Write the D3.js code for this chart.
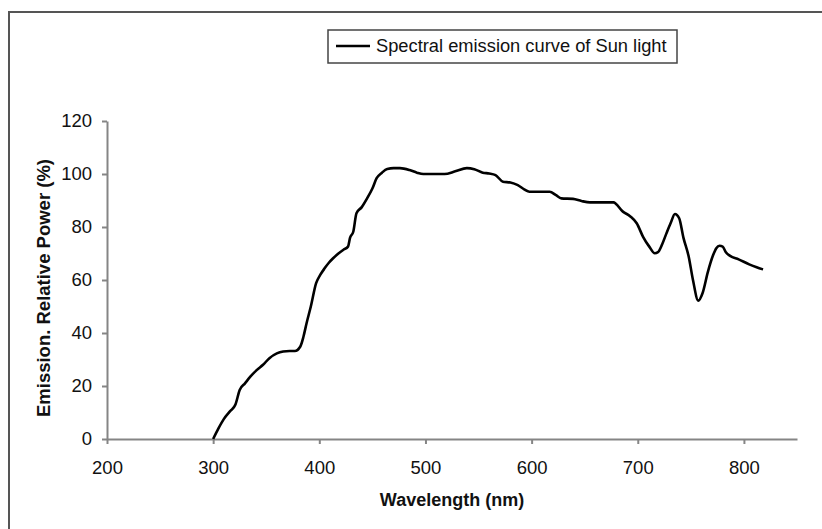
<!DOCTYPE html>
<html>
<head>
<meta charset="utf-8">
<script src="https://cdn.jsdelivr.net/npm/d3@7"></script>
<style>
  body { margin: 0; background: #fff; }
  svg { display: block; font-family: "Liberation Sans", Arial, sans-serif; }
</style>
</head>
<body>
<svg id="svg" width="822" height="529"></svg>
<script>

// spectral curve
var wavelength = [300, 305, 310, 316, 321, 325, 330, 335, 341, 347, 353, 360, 366, 372, 377, 382, 385, 388, 392, 397, 401, 405, 409, 413, 418, 423, 427, 429, 432, 435, 440, 445, 450, 454, 459, 464, 470, 476, 485, 492, 498, 508, 518, 528, 539, 546, 554, 560, 566, 573, 580, 587, 593, 598, 608, 617, 623, 628, 639, 647, 655, 666, 677, 686, 693, 699, 705, 711, 716, 719, 723, 727, 731, 735, 739, 743, 748, 752, 757, 761, 766, 771, 774, 777, 780, 783, 787, 795, 805, 812, 818];
var power = [0, 4, 7.5, 10.5, 13, 18.5, 21, 23.5, 26, 28, 30.5, 32.3, 33, 33.2, 33.2, 34.8, 38.5, 43.7, 50, 58.8, 62, 64.4, 66.5, 68.2, 70, 71.5, 72.6, 76, 78.2, 85.2, 87.5, 90.8, 94.5, 98.4, 100.5, 101.9, 102.2, 102.2, 101.5, 100.5, 100, 100, 100, 101, 102.2, 101.8, 100.5, 100.2, 99.6, 97.1, 96.8, 95.8, 94.2, 93.3, 93.3, 93.3, 92, 90.8, 90.6, 89.8, 89.3, 89.3, 89.3, 85.8, 84, 81.4, 76.3, 72.5, 70.1, 70.5, 73.5, 77.6, 81.5, 84.9, 83.3, 76, 68.8, 60, 52.2, 55, 63, 69.4, 72, 72.9, 72.6, 70.5, 69.1, 67.8, 65.9, 64.8, 64];

var xTicks = [200, 300, 400, 500, 600, 700, 800];
var yTicks = [0, 20, 40, 60, 80, 100, 120];
var seriesName = "Spectral emission curve of Sun light";
var xTitle = "Wavelength (nm)";
var yTitle = "Emission. Relative Power (%)";

var svg = d3.select("#svg");

var padding = {top: 121, right: 25, bottom: 90, left: 107};
var chartArea = {
    "width": 797 - padding.left,
    "height": 439 - padding.top
};

// outer frame, only top and left edges fall inside the picture
svg.append("rect")
    .attr("x", 9).attr("y", 12)
    .attr("width", 840).attr("height", 560)
    .attr("fill", "none")
    .attr("stroke", "#555")
    .attr("stroke-width", 2);

var xScale = d3.scaleLinear()
    .domain([200, 850])
    .range([0, chartArea.width]);

var yScale = d3.scaleLinear()
    .domain([0, 120])
    .range([chartArea.height, 0]);

var grey = "#858585";

var xAxis = svg.append("g")
    .classed("xAxis", true)
    .attr("transform", "translate(" + padding.left + "," + (chartArea.height + padding.top) + ")")
    .call(d3.axisBottom(xScale).tickValues(xTicks).tickSizeInner(5).tickSizeOuter(0).tickPadding(17));

var yAxis = svg.append("g")
    .classed("yAxis", true)
    .attr("transform", "translate(" + padding.left + "," + padding.top + ")")
    .call(d3.axisLeft(yScale).tickValues(yTicks).tickSizeInner(5).tickSizeOuter(0).tickPadding(10));

svg.selectAll(".xAxis path, .yAxis path, .xAxis line, .yAxis line")
    .attr("stroke", grey)
    .attr("stroke-width", 2);
svg.selectAll(".xAxis text, .yAxis text")
    .attr("font-size", 18.5)
    .attr("font-family", "Liberation Sans, Arial, sans-serif")
    .attr("fill", "#111");

// axis titles
svg.append("text")
    .attr("x", padding.left + chartArea.width / 2)
    .attr("y", 506)
    .attr("text-anchor", "middle")
    .attr("font-size", 18)
    .attr("font-weight", "bold")
    .attr("fill", "#111")
    .text(xTitle);

svg.append("text")
    .attr("transform", "translate(50," + 288 + ") rotate(-90)")
    .attr("text-anchor", "middle")
    .attr("font-size", 18.5)
    .attr("font-weight", "bold")
    .attr("fill", "#111")
    .text(yTitle);

// the curve
var data = wavelength.map(function (d, i) { return {w: d, p: power[i]}; });

var line = d3.line()
    .x(function (d) { return xScale(d.w); })
    .y(function (d) { return yScale(d.p); })
    .curve(d3.curveMonotoneX);

svg.append("g")
    .attr("transform", "translate(" + padding.left + "," + padding.top + ")")
    .append("path")
    .datum(data)
    .attr("d", line)
    .attr("fill", "none")
    .attr("stroke", "#000")
    .attr("stroke-width", 2.6)
    .attr("stroke-linejoin", "round");

// legend
var legend = svg.append("g").attr("transform", "translate(328,30)");
legend.append("rect")
    .attr("width", 349).attr("height", 33)
    .attr("fill", "#fff")
    .attr("stroke", "#444")
    .attr("stroke-width", 1.5);
legend.append("line")
    .attr("x1", 8).attr("x2", 42)
    .attr("y1", 16).attr("y2", 16)
    .attr("stroke", "#000")
    .attr("stroke-width", 2.6);
legend.append("text")
    .attr("x", 48).attr("y", 21.5)
    .attr("font-size", 18.3)
    .attr("fill", "#111")
    .text(seriesName);

</script>
</body>
</html>
